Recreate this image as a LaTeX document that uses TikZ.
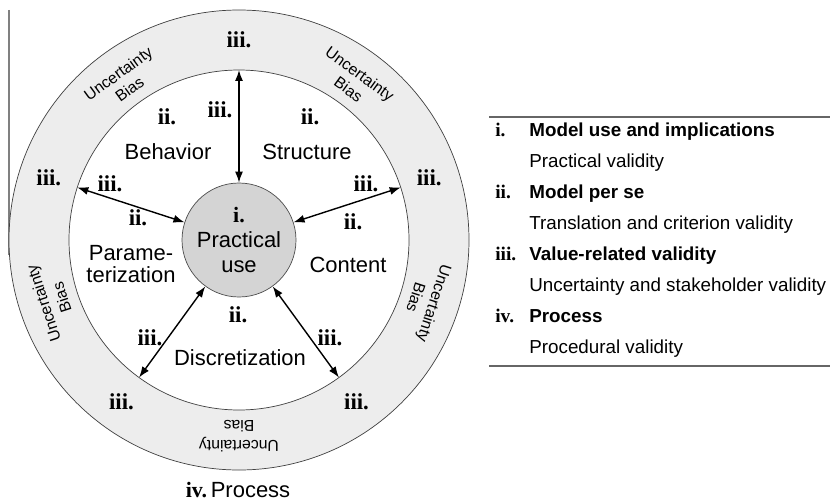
\documentclass[tikz,border=0pt]{standalone}
\usepackage{fontspec}
\setmainfont{Liberation Sans}
\newfontfamily\romfont{Liberation Serif}
\usetikzlibrary{arrows.meta}
\usepackage{xcolor}
\newcommand{\biaslabel}[2] {
    \node[bias,rotate=#1-90] (#2) at (#1:196) {Uncertainty\\Bias};
}
\newcommand{\validrow}[5] {
    \node[tabnum]  (#5n) at (256,#4) {#1};
    \node[tabhead] (#5h) at (290,#4) {#2};
    \node[tabsub]  (#5s) at (290,#4-31) {#3};
}

\begin{document}
\begin{tikzpicture}[x=0.2mm,y=0.2mm]
    \tikzset{
        num/.style={font=\romfont\bfseries\fontsize{13}{13}\selectfont,inner sep=0pt},
        region/.style={font=\fontsize{12.5}{13}\selectfont,align=center,inner sep=0pt},
        bias/.style={font=\fontsize{9}{11}\selectfont,align=center,inner sep=0pt},
        hub/.style={circle,draw=black!70,fill=black!17,minimum size=22.8mm,
            inner sep=0pt,align=center,font=\fontsize{12.5}{14.2}\selectfont},
        link/.style={thick,{Latex[length=2.2mm,width=1.6mm]}-{Latex[length=2.2mm,width=1.6mm]}},
        tabnum/.style={anchor=base west,inner sep=0pt,font=\romfont\bfseries\fontsize{11}{11}\selectfont},
        tabhead/.style={anchor=base west,inner sep=0pt,font=\bfseries\fontsize{10.7}{11}\selectfont},
        tabsub/.style={anchor=base west,inner sep=0pt,font=\fontsize{10.7}{11}\selectfont}
    }
    \useasboundingbox (-239,-260) rectangle (591,240);
    \draw[black!50,line width=0.7pt] (-230,230) -- (-230,-15);
    % rings
    \fill[black!7] (0,0) circle (230);
    \draw[black!75] (0,0) circle (230);
    \draw[black!75,fill=white] (0,0) circle (170);
    \node[hub] (use) at (0,0) {{\romfont\bfseries i.}\\Practical\\use};
    % spokes
    \foreach \a [count=\i] in {90,162,234,306,18} {
        \coordinate (rim\i) at (\a:170);
        \node[num] (out\i) at (\a:200) {iii.};
        \draw[link] (use) -- (rim\i);
    }
    % uncertainty
    \biaslabel{126}{b1}
    \biaslabel{54}{b2}
    \biaslabel{198}{b3}
    \biaslabel{270}{b4}
    \biaslabel{342}{b5}
    % model parts
    \node[region] (beh) at (-71,88) {Behavior};
    \node[region] (str) at (68,88) {Structure};
    \node[region] (par) at (-108,-24) {Parame-\\terization};
    \node[region] (con) at (109,-25) {Content};
    \node[region] (dis) at (1,-118) {Discretization};
    \node[num] (ii1) at (-72,123) {ii.};
    \node[num] (ii2) at (71,123) {ii.};
    \node[num] (ii3) at (-101,22) {ii.};
    \node[num] (ii4) at (114,18) {ii.};
    \node[num] (ii5) at (-1,-75) {ii.};
    \node[num] (in1) at (-19,130) {iii.};
    \node[num] (in2) at (-129,56) {iii.};
    \node[num] (in3) at (127,56) {iii.};
    \node[num] (in4) at (-89,-98) {iii.};
    \node[num] (in5) at (91,-98) {iii.};
    \node[region] (proc) at (-1,-250) {{\romfont\bfseries iv.}\,Process};
    % table
    \draw[black!60,line width=0.7pt] (250,123) -- (591,123);
    \validrow{i.}{Model use and implications}{Practical validity}{104}{r1}
    \validrow{ii.}{Model per se}{Translation and criterion validity}{42}{r2}
    \validrow{iii.}{Value-related validity}{Uncertainty and stakeholder validity}{-20}{r3}
    \validrow{iv.}{Process}{Procedural validity}{-82}{r4}
    \draw[black!60,line width=0.7pt] (250,-126) -- (591,-126);
\end{tikzpicture}
\end{document}
